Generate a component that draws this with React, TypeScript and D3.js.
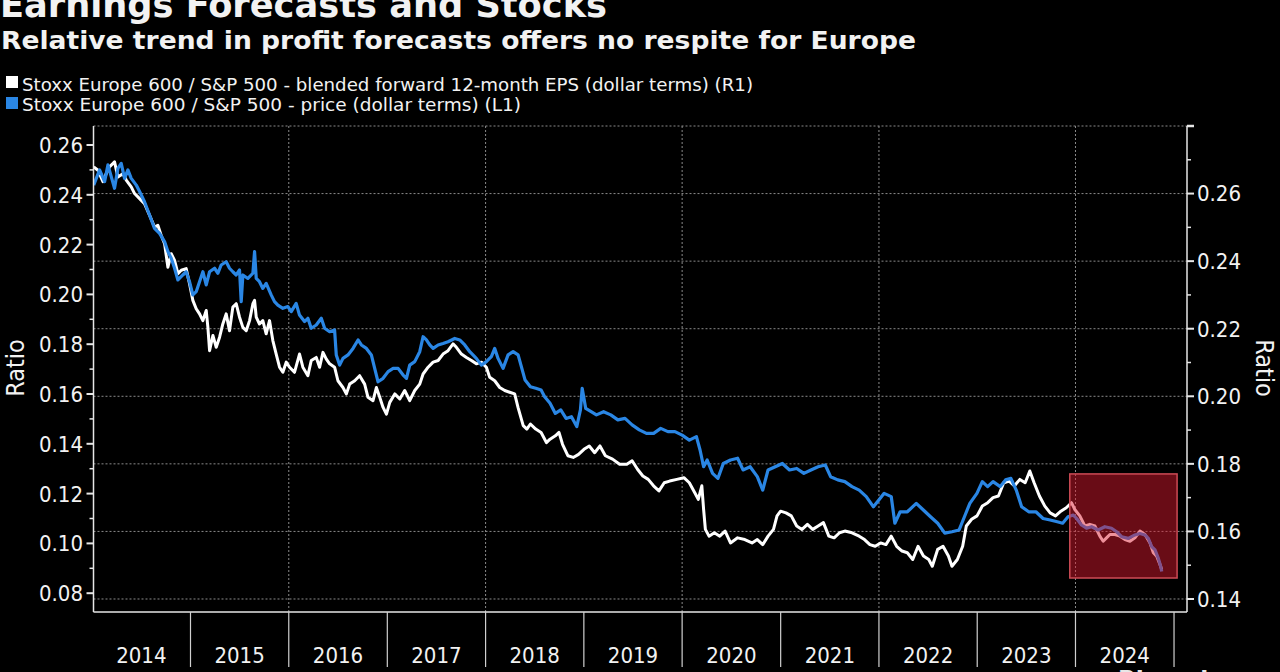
import React from "react";
import * as d3 from "d3";

// Stoxx Europe 600 / S&P 500 - blended forward 12-month EPS (right axis, R1) [decimal year, ratio]
const epsRatio: [number, number][] = [
  [2014.015,0.2679],[2014.058,0.2669],[2014.109,0.2635],[2014.143,0.2659],[2014.176,0.2679],[2014.210,0.2689],[2014.227,0.2694],[2014.261,0.2649],[2014.312,0.2659],[2014.346,0.2640],[2014.397,0.2620],[2014.431,0.2600],[2014.482,0.2585],[2014.532,0.2570],[2014.583,0.2536],[2014.634,0.2501],[2014.668,0.2506],[2014.702,0.2476],[2014.736,0.2452],[2014.770,0.2382],[2014.804,0.2422],[2014.838,0.2402],[2014.872,0.2363],[2014.906,0.2373],[2014.956,0.2378],[2014.990,0.2333],
  [2015.024,0.2284],[2015.058,0.2259],[2015.092,0.2244],[2015.126,0.2224],[2015.160,0.2254],[2015.177,0.2204],[2015.194,0.2135],[2015.228,0.2180],[2015.262,0.2145],[2015.296,0.2175],[2015.329,0.2214],[2015.363,0.2244],[2015.397,0.2194],[2015.431,0.2264],[2015.465,0.2274],[2015.499,0.2234],[2015.533,0.2204],[2015.567,0.2194],[2015.601,0.2224],[2015.635,0.2274],[2015.652,0.2284],[2015.669,0.2234],[2015.702,0.2214],[2015.736,0.2224],[2015.770,0.2185],[2015.804,0.2224],[2015.838,0.2165],[2015.872,0.2125],[2015.906,0.2086],[2015.940,0.2071],[2015.974,0.2101],
  [2016.008,0.2086],[2016.058,0.2071],[2016.109,0.2125],[2016.143,0.2086],[2016.194,0.2061],[2016.228,0.2106],[2016.279,0.2115],[2016.313,0.2086],[2016.347,0.2130],[2016.381,0.2110],[2016.415,0.2096],[2016.465,0.2086],[2016.499,0.2046],[2016.550,0.2026],[2016.584,0.2007],[2016.618,0.2036],[2016.669,0.2046],[2016.719,0.2061],[2016.770,0.2036],[2016.804,0.1997],[2016.855,0.1987],[2016.889,0.2026],[2016.923,0.1997],[2016.957,0.1967],[2016.991,0.1947],
  [2017.025,0.1982],[2017.076,0.2007],[2017.127,0.1992],[2017.177,0.2017],[2017.228,0.1987],[2017.279,0.2017],[2017.330,0.2036],[2017.364,0.2066],[2017.415,0.2086],[2017.466,0.2101],[2017.517,0.2106],[2017.567,0.2125],[2017.618,0.2135],[2017.669,0.2155],[2017.703,0.2145],[2017.754,0.2125],[2017.805,0.2115],[2017.856,0.2106],[2017.906,0.2096],[2017.957,0.2101],
  [2018.008,0.2086],[2018.042,0.2056],[2018.093,0.2046],[2018.144,0.2026],[2018.195,0.2017],[2018.245,0.2012],[2018.296,0.2007],[2018.330,0.1967],[2018.383,0.1913],[2018.420,0.1903],[2018.456,0.1918],[2018.510,0.1903],[2018.565,0.1893],[2018.619,0.1863],[2018.656,0.1873],[2018.710,0.1883],[2018.747,0.1893],[2018.783,0.1858],[2018.837,0.1824],[2018.892,0.1819],[2018.946,0.1828],
  [2019.001,0.1843],[2019.055,0.1853],[2019.110,0.1833],[2019.164,0.1853],[2019.219,0.1824],[2019.292,0.1814],[2019.364,0.1799],[2019.437,0.1799],[2019.491,0.1809],[2019.546,0.1784],[2019.600,0.1764],[2019.655,0.1754],[2019.709,0.1735],[2019.764,0.1720],[2019.818,0.1744],[2019.873,0.1749],[2019.946,0.1754],
  [2020.018,0.1759],[2020.073,0.1744],[2020.127,0.1715],[2020.164,0.1695],[2020.200,0.1735],[2020.218,0.1665],[2020.236,0.1606],[2020.273,0.1586],[2020.327,0.1596],[2020.382,0.1586],[2020.436,0.1601],[2020.491,0.1566],[2020.563,0.1581],[2020.636,0.1576],[2020.709,0.1566],[2020.763,0.1576],[2020.818,0.1561],[2020.872,0.1586],[2020.927,0.1606],[2020.963,0.1646],[2020.999,0.1660],
  [2021.054,0.1655],[2021.108,0.1646],[2021.163,0.1616],[2021.217,0.1606],[2021.272,0.1621],[2021.326,0.1606],[2021.381,0.1616],[2021.435,0.1626],[2021.490,0.1586],[2021.544,0.1581],[2021.599,0.1596],[2021.653,0.1601],[2021.726,0.1596],[2021.799,0.1586],[2021.853,0.1576],[2021.908,0.1561],[2021.962,0.1556],
  [2022.017,0.1566],[2022.071,0.1561],[2022.125,0.1586],[2022.180,0.1556],[2022.235,0.1542],[2022.289,0.1537],[2022.344,0.1517],[2022.398,0.1556],[2022.453,0.1527],[2022.507,0.1517],[2022.543,0.1497],[2022.598,0.1547],[2022.652,0.1556],[2022.707,0.1527],[2022.743,0.1497],[2022.798,0.1517],[2022.852,0.1556],[2022.889,0.1616],[2022.943,0.1636],[2022.998,0.1646],
  [2023.052,0.1675],[2023.107,0.1685],[2023.161,0.1700],[2023.216,0.1705],[2023.270,0.1744],[2023.325,0.1749],[2023.379,0.1735],[2023.434,0.1754],[2023.488,0.1744],[2023.535,0.1779],[2023.579,0.1744],[2023.633,0.1705],[2023.688,0.1675],[2023.742,0.1655],[2023.797,0.1646],[2023.851,0.1660],[2023.906,0.1670],[2023.959,0.1685],[2023.993,0.1665],
  [2024.044,0.1646],[2024.095,0.1616],[2024.146,0.1621],[2024.197,0.1616],[2024.247,0.1586],[2024.281,0.1571],[2024.315,0.1581],[2024.349,0.1591],[2024.400,0.1591],[2024.451,0.1586],[2024.502,0.1576],[2024.553,0.1571],[2024.603,0.1581],[2024.654,0.1601],[2024.705,0.1591],[2024.756,0.1566],[2024.790,0.1537],[2024.824,0.1527],[2024.851,0.1507],[2024.875,0.1487],
];

// Stoxx Europe 600 / S&P 500 - price (left axis, L1) [decimal year, ratio]
const priceRatio: [number, number][] = [
  [2014.015,0.2439],[2014.075,0.2500],[2014.126,0.2453],[2014.160,0.2520],[2014.227,0.2426],[2014.261,0.2506],[2014.295,0.2526],[2014.329,0.2466],[2014.363,0.2500],[2014.397,0.2466],[2014.448,0.2439],[2014.482,0.2413],[2014.532,0.2372],[2014.583,0.2319],[2014.634,0.2265],[2014.685,0.2245],[2014.736,0.2212],[2014.770,0.2172],[2014.804,0.2145],[2014.838,0.2105],[2014.872,0.2058],[2014.922,0.2078],[2014.956,0.2091],[2014.990,0.2051],
  [2015.024,0.1998],[2015.058,0.2011],[2015.092,0.2051],[2015.126,0.2091],[2015.160,0.2038],[2015.194,0.2091],[2015.245,0.2105],[2015.279,0.2085],[2015.312,0.2118],[2015.363,0.2131],[2015.397,0.2105],[2015.431,0.2091],[2015.465,0.2078],[2015.499,0.2098],[2015.516,0.1971],[2015.533,0.2078],[2015.584,0.2064],[2015.635,0.2085],[2015.652,0.2172],[2015.669,0.2064],[2015.702,0.2051],[2015.736,0.2024],[2015.770,0.2044],[2015.821,0.1998],[2015.855,0.1971],[2015.889,0.1957],[2015.940,0.1944],[2015.991,0.1951],
  [2016.025,0.1931],[2016.075,0.1964],[2016.109,0.1917],[2016.160,0.1891],[2016.194,0.1904],[2016.228,0.1864],[2016.279,0.1877],[2016.330,0.1904],[2016.364,0.1864],[2016.415,0.1850],[2016.465,0.1857],[2016.482,0.1757],[2016.516,0.1716],[2016.550,0.1743],[2016.601,0.1757],[2016.652,0.1783],[2016.703,0.1817],[2016.737,0.1797],[2016.788,0.1783],[2016.838,0.1757],[2016.872,0.1703],[2016.906,0.1649],[2016.957,0.1663],
  [2017.008,0.1690],[2017.059,0.1703],[2017.110,0.1703],[2017.161,0.1676],[2017.195,0.1663],[2017.228,0.1716],[2017.279,0.1730],[2017.330,0.1770],[2017.364,0.1830],[2017.398,0.1817],[2017.432,0.1797],[2017.466,0.1783],[2017.517,0.1797],[2017.567,0.1803],[2017.618,0.1810],[2017.686,0.1823],[2017.737,0.1817],[2017.788,0.1797],[2017.839,0.1770],[2017.906,0.1743],[2017.957,0.1716],
  [2018.008,0.1730],[2018.059,0.1750],[2018.093,0.1783],[2018.127,0.1743],[2018.178,0.1703],[2018.229,0.1757],[2018.280,0.1770],[2018.331,0.1757],[2018.402,0.1656],[2018.456,0.1629],[2018.511,0.1623],[2018.565,0.1616],[2018.601,0.1589],[2018.656,0.1563],[2018.710,0.1522],[2018.765,0.1536],[2018.819,0.1502],[2018.874,0.1509],[2018.928,0.1469],[2018.965,0.1536],[2018.983,0.1623],
  [2019.019,0.1542],[2019.074,0.1529],[2019.128,0.1516],[2019.201,0.1529],[2019.274,0.1516],[2019.346,0.1496],[2019.419,0.1502],[2019.491,0.1476],[2019.564,0.1456],[2019.637,0.1442],[2019.710,0.1442],[2019.782,0.1462],[2019.855,0.1449],[2019.927,0.1449],
  [2020.000,0.1435],[2020.073,0.1415],[2020.145,0.1429],[2020.182,0.1375],[2020.218,0.1308],[2020.254,0.1335],[2020.309,0.1281],[2020.363,0.1261],[2020.418,0.1321],[2020.491,0.1335],[2020.563,0.1342],[2020.618,0.1295],[2020.690,0.1308],[2020.763,0.1268],[2020.818,0.1214],[2020.872,0.1295],[2020.945,0.1308],
  [2021.017,0.1321],[2021.090,0.1295],[2021.163,0.1301],[2021.236,0.1281],[2021.308,0.1295],[2021.381,0.1308],[2021.454,0.1315],[2021.508,0.1268],[2021.581,0.1255],[2021.653,0.1248],[2021.726,0.1228],[2021.799,0.1214],[2021.871,0.1188],[2021.944,0.1147],[2021.999,0.1174],
  [2022.053,0.1201],[2022.125,0.1188],[2022.162,0.1081],[2022.216,0.1127],[2022.289,0.1127],[2022.380,0.1161],[2022.452,0.1134],[2022.525,0.1107],[2022.598,0.1081],[2022.670,0.1041],[2022.743,0.1047],[2022.816,0.1054],[2022.870,0.1107],[2022.925,0.1161],[2022.997,0.1201],
  [2023.052,0.1248],[2023.106,0.1228],[2023.161,0.1248],[2023.234,0.1228],[2023.288,0.1255],[2023.343,0.1261],[2023.397,0.1214],[2023.452,0.1147],[2023.524,0.1127],[2023.597,0.1127],[2023.670,0.1100],[2023.742,0.1094],[2023.815,0.1087],[2023.869,0.1081],[2023.924,0.1107],[2023.978,0.1114],
  [2024.010,0.1101],[2024.061,0.1074],[2024.112,0.1061],[2024.163,0.1067],[2024.230,0.1054],[2024.298,0.1067],[2024.366,0.1061],[2024.417,0.1047],[2024.468,0.1027],[2024.536,0.1020],[2024.603,0.1034],[2024.654,0.1040],[2024.705,0.1034],[2024.739,0.1020],[2024.773,0.0987],[2024.807,0.0974],[2024.841,0.0940],[2024.865,0.0907],[2024.875,0.0887],
];

const yearLabels = [2014, 2015, 2016, 2017, 2018, 2019, 2020, 2021, 2022, 2023, 2024];
const yearBreaks = [2015, 2016, 2017, 2018, 2019, 2020, 2021, 2022, 2023, 2024, 2025];
const gridYears = [2016, 2018, 2020, 2022, 2024];
const leftTicks = [0.08, 0.10, 0.12, 0.14, 0.16, 0.18, 0.20, 0.22, 0.24, 0.26];
const leftMinor = [0.09, 0.11, 0.13, 0.15, 0.17, 0.19, 0.21, 0.23, 0.25];
const rightTicks = [0.14, 0.16, 0.18, 0.20, 0.22, 0.24, 0.26];
const rightGrid = [0.14, 0.16, 0.18, 0.20, 0.22, 0.24, 0.26, 0.28];
const rightMinor = [0.15, 0.17, 0.19, 0.21, 0.23, 0.25, 0.27];
// highlighted period (decimal years) and its span on the left axis
const highlightTime = [2023.942, 2025.031];
const highlightValue = [0.0861, 0.1279];

const titleText = "Earnings Forecasts and Stocks";
const subtitleText = "Relative trend in profit forecasts offers no respite for Europe";
const legendLabels = [
  "Stoxx Europe 600 / S&P 500 - blended forward 12-month EPS (dollar terms) (R1)",
  "Stoxx Europe 600 / S&P 500 - price (dollar terms) (L1)",
];

const WHITE = "#ffffff";
const BLUE = "#2a86e4";
const FONT = "'DejaVu Sans Condensed', 'DejaVu Sans', sans-serif";

function toDate(t: number): Date {
  const y = Math.floor(t);
  const a = new Date(y, 0, 1).getTime();
  const b = new Date(y + 1, 0, 1).getTime();
  return new Date(a + (t - y) * (b - a));
}

export default function App() {
  const L = 93.5, R = 1187, T = 126, B = 612;
  const x = d3.scaleTime().domain([toDate(2014.013), toDate(2025.132)]).range([L, R]);
  const yL = d3.scaleLinear().domain([0.07245, 0.26763]).range([B, T]);
  const yR = d3.scaleLinear().domain([0.13615, 0.28]).range([B, T]);

  const lineR = d3.line<[number, number]>().x((d) => x(toDate(d[0]))).y((d) => yR(d[1]));
  const lineL = d3.line<[number, number]>().x((d) => x(toDate(d[0]))).y((d) => yL(d[1]));

  const hx0 = x(toDate(highlightTime[0]));
  const hx1 = x(toDate(highlightTime[1]));
  const hy0 = yL(highlightValue[1]);
  const hy1 = yL(highlightValue[0]);

  const txt = "#f2f2f2";

  return (
    <div style={{ position: "fixed", left: 0, top: 0, width: 1280, height: 672, background: "#000", overflow: "hidden" }}>
      <svg width={1280} height={672} style={{ display: "block", fontFamily: FONT }}>
        <rect x={0} y={0} width={1280} height={672} fill="#000" />
        <defs>
          <clipPath id="plot">
            <rect x={L} y={T} width={R - L} height={B - T} />
          </clipPath>
        </defs>

        {/* Title & subtitle */}
        <text x={0} y={17} fill={txt} fontSize={36} fontWeight="bold" textLength={607} lengthAdjust="spacingAndGlyphs">
          {titleText}
        </text>
        <text x={1} y={49} fill={txt} fontSize={25} fontWeight="bold" textLength={915} lengthAdjust="spacingAndGlyphs">
          {subtitleText}
        </text>

        {/* Legend */}
        <rect x={6} y={76} width={12} height={12} fill={WHITE} />
        <text x={22} y={91} fill={txt} fontSize={18} textLength={731} lengthAdjust="spacingAndGlyphs">
          {legendLabels[0]}
        </text>
        <rect x={6} y={97} width={12} height={12} fill={BLUE} />
        <text x={22} y={111} fill={txt} fontSize={18} textLength={499} lengthAdjust="spacingAndGlyphs">
          {legendLabels[1]}
        </text>

        {/* Grid */}
        {rightGrid.map((v) => (
          <line key={"hg" + v} x1={L} x2={R} y1={yR(v)} y2={yR(v)} stroke="#8a8a8a" strokeWidth={1} strokeDasharray="2,2" />
        ))}
        {gridYears.map((yr) => (
          <line key={"vg" + yr} x1={x(toDate(yr))} x2={x(toDate(yr))} y1={T} y2={B} stroke="#8a8a8a" strokeWidth={1} strokeDasharray="2,2" />
        ))}

        {/* Series */}
        <g clipPath="url(#plot)">
          <path d={lineR(epsRatio) || ""} fill="none" stroke={WHITE} strokeWidth={3} strokeLinejoin="round" />
          <path d={lineL(priceRatio) || ""} fill="none" stroke={BLUE} strokeWidth={3.2} strokeLinejoin="round" />
        </g>

        {/* Highlight box */}
        <rect x={hx0} y={hy0} width={hx1 - hx0} height={hy1 - hy0} fill="rgb(220,25,45)" fillOpacity={0.48} stroke="rgb(205,75,85)" strokeWidth={1.5} />

        {/* Axes lines */}
        <line x1={L} x2={L} y1={T} y2={B} stroke="#e6e6e6" strokeWidth={1.5} />
        <line x1={R} x2={R} y1={T} y2={B} stroke="#e6e6e6" strokeWidth={1.5} />
        <line x1={L} x2={R} y1={B} y2={B} stroke="#e6e6e6" strokeWidth={1.5} />

        {/* Left axis */}
        {leftTicks.map((v) => (
          <g key={"lt" + v}>
            <line x1={L - 7} x2={L} y1={yL(v)} y2={yL(v)} stroke="#e6e6e6" strokeWidth={2} />
            <text x={83} y={yL(v)} dy="0.36em" textAnchor="end" fill={txt} fontSize={22}>
              {v.toFixed(2)}
            </text>
          </g>
        ))}
        {leftMinor.map((v) => (
          <line key={"lm" + v} x1={L - 4} x2={L} y1={yL(v)} y2={yL(v)} stroke="#e6e6e6" strokeWidth={1.5} />
        ))}
        <text transform={`translate(24,368) rotate(-90)`} textAnchor="middle" fill={txt} fontSize={25}>
          Ratio
        </text>

        {/* Right axis */}
        {rightTicks.map((v) => (
          <g key={"rt" + v}>
            <line x1={R} x2={R + 7} y1={yR(v)} y2={yR(v)} stroke="#e6e6e6" strokeWidth={2} />
            <text x={1197} y={yR(v)} dy="0.36em" textAnchor="start" fill={txt} fontSize={22}>
              {v.toFixed(2)}
            </text>
          </g>
        ))}
        {rightMinor.map((v) => (
          <line key={"rm" + v} x1={R} x2={R + 4} y1={yR(v)} y2={yR(v)} stroke="#e6e6e6" strokeWidth={1.5} />
        ))}
        <line x1={R} x2={R + 7} y1={yR(0.28)} y2={yR(0.28)} stroke="#e6e6e6" strokeWidth={2.5} />
        <text transform={`translate(1256,368) rotate(90)`} textAnchor="middle" fill={txt} fontSize={25}>
          Ratio
        </text>

        {/* Bottom axis */}
        {yearBreaks.map((yr) => (
          <line key={"yb" + yr} x1={x(toDate(yr))} x2={x(toDate(yr))} y1={B} y2={667} stroke="#d0d0d0" strokeWidth={1.2} />
        ))}
        {yearLabels.map((yr) => (
          <text key={"yl" + yr} x={x(toDate(yr + 0.5))} y={663} textAnchor="middle" fill={txt} fontSize={22}>
            {yr}
          </text>
        ))}

        {/* Source mark (cut off at bottom) */}
        <text x={1118} y={690} fill="#e8e8e8" fontSize={26} fontWeight="bold">
          Bloomberg
        </text>
      </svg>
    </div>
  );
}
